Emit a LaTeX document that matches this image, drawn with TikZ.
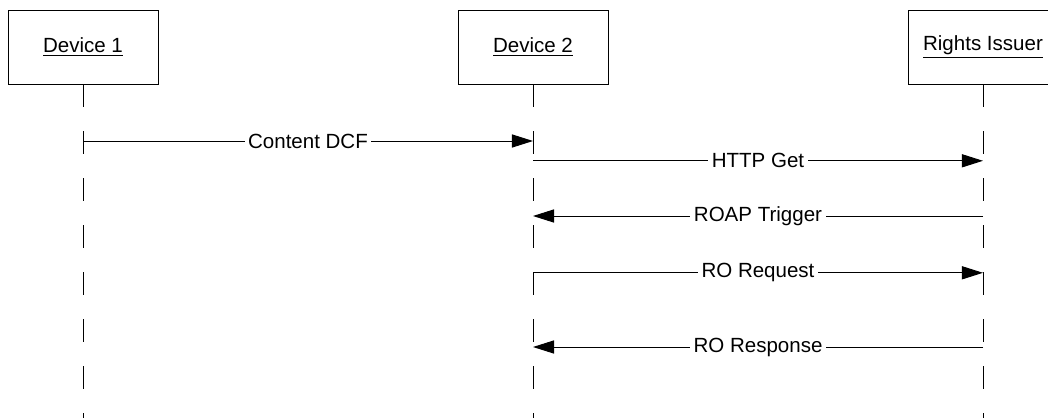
\documentclass[tikz,border=0pt]{standalone}
\usepackage{fontspec}
\setmainfont{Liberation Sans}
\usetikzlibrary{arrows.meta, positioning}

\begin{document}
\begin{tikzpicture}[
    every node/.style={font=\fontsize{14.6}{17}\selectfont},
    actor/.style={rectangle, draw, line width=0.7pt, minimum width=3.75cm, minimum height=1.85cm, fill=white},
    lifeline/.style={line width=0.7pt, dash pattern=on 16.3pt off 17.1pt},
    msg/.style={-{Triangle[length=5.3mm, width=3.3mm]}, line width=0.7pt},
    lbl/.style={fill=white, inner sep=2.5pt}]

    \clip (0,0) rectangle (26.2,-10.45);

    % Actors
    \node[actor] (dev1) at (2.075,-1.175) {\underline{Device 1}};
    \node[actor] (dev2) at (13.325,-1.175) {\underline{Device 2}};
    \node[actor] (ri) at (24.575,-1.175) {\underline{Rights Issuer}};

    % Lifelines
    \coordinate (dev1_bot) at (2.075,-10.6);
    \coordinate (dev2_bot) at (13.325,-10.6);
    \coordinate (ri_bot) at (24.575,-10.6);

    \draw[lifeline] (dev1) -- (dev1_bot);
    \draw[lifeline] (dev2) -- (dev2_bot);
    \draw[lifeline] (ri) -- (ri_bot);

    % Messages

    % 1. Content DCF
    \coordinate (m1_a) at (2.075,-3.525);
    \coordinate (m1_b) at (13.325,-3.525);
    \draw[msg] (m1_a) -- node[lbl] {Content DCF} (m1_b);

    % 2. HTTP Get
    \coordinate (m2_a) at (13.325,-4.02);
    \coordinate (m2_b) at (24.575,-4.02);
    \draw[msg] (m2_a) -- node[lbl] {HTTP Get} (m2_b);

    % 3. ROAP Trigger
    \coordinate (m3_a) at (24.575,-5.4);
    \coordinate (m3_b) at (13.325,-5.4);
    \draw[msg] (m3_a) -- node[lbl] {ROAP Trigger} (m3_b);

    % 4. RO Request
    \coordinate (m4_a) at (13.325,-6.82);
    \coordinate (m4_b) at (24.575,-6.82);
    \draw[msg] (m4_a) -- node[lbl] {RO Request} (m4_b);

    % 5. RO Response
    \coordinate (m5_a) at (24.575,-8.675);
    \coordinate (m5_b) at (13.325,-8.675);
    \draw[msg] (m5_a) -- node[lbl] {RO Response} (m5_b);

\end{tikzpicture}
\end{document}
